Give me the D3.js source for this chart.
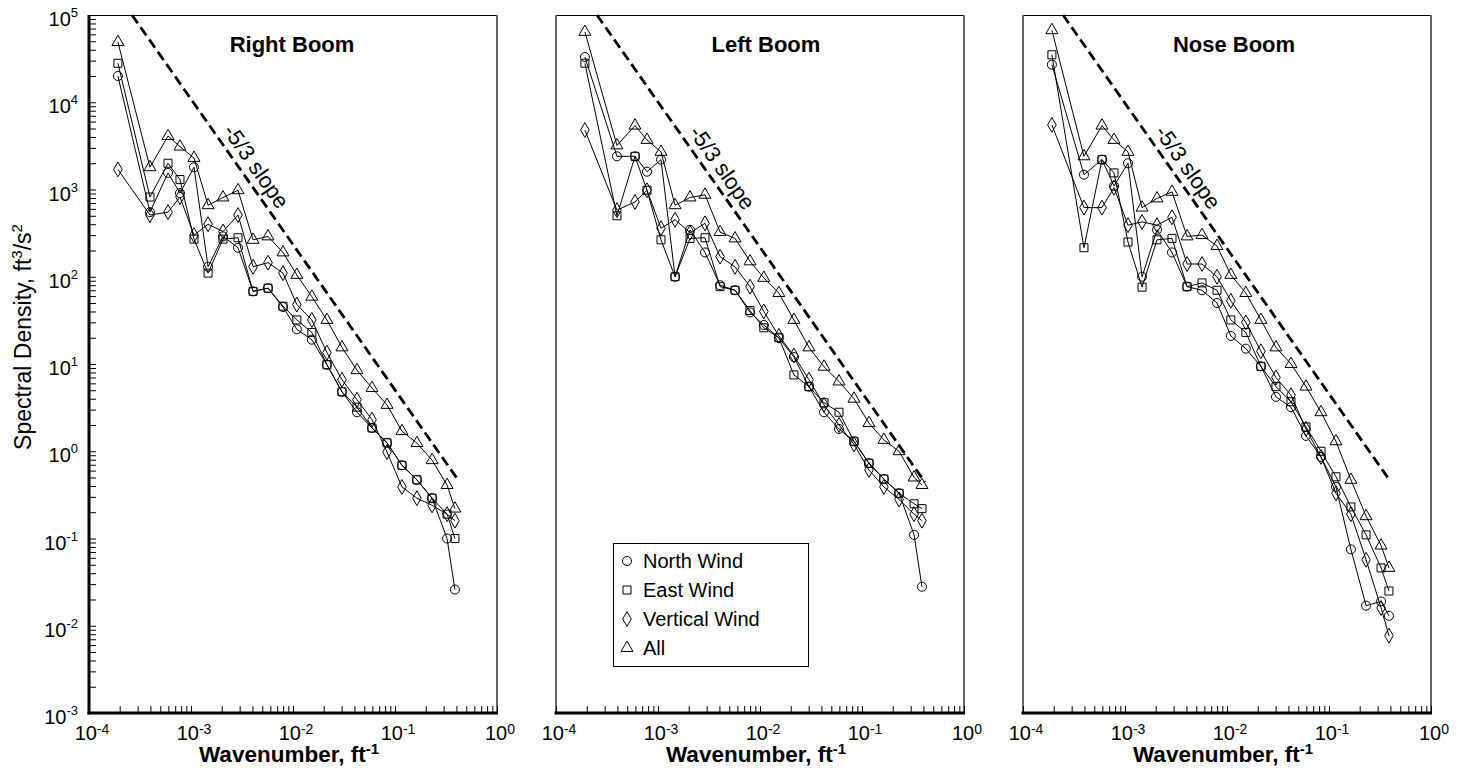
<!DOCTYPE html>
<html><head><meta charset="utf-8">
<script src="https://cdn.jsdelivr.net/npm/d3@7"></script>
<style>
body{margin:0;background:#fff;}
text{font-family:Arial,"Liberation Sans",sans-serif;fill:#000;}
</style>
</head><body>
<svg id="c" width="1464" height="769"></svg>
<script>
// ---------------- data ----------------
const wavenumber = [1.92e-4, 3.96e-4, 5.95e-4, 7.80e-4, 1.07e-3, 1.47e-3, 2.06e-3, 2.89e-3, 4.06e-3, 5.69e-3, 7.98e-3, 1.09e-2, 1.53e-2, 2.15e-2, 3.02e-2, 4.24e-2, 5.95e-2, 8.35e-2, 0.117, 0.164, 0.231, 0.324, 0.387];

const panelTitles = ["Right Boom", "Left Boom", "Nose Boom"];
const seriesNames = ["North Wind", "East Wind", "Vertical Wind", "All"];

const rightNorth    = [2.0e4, 550, 1550, 910, 1800, 130, 290, 215, 68, 74, 45, 25, 19, 9.8, 4.8, 2.8, 1.85, 1.25, 0.69, 0.47, 0.29, 0.10, 0.026];
const rightEast     = [2.8e4, 820, 2000, 1300, 270, 110, 270, 280, 68, 74, 46, 32, 23, 9.8, 4.8, 3.2, 1.85, 1.25, 0.69, 0.47, 0.29, 0.19, 0.10];
const rightVertical = [1700, 510, 550, 820, 300, 400, 330, 510, 130, 145, 110, 48, 32, 13.5, 6.6, 3.9, 2.3, 0.98, 0.39, 0.29, 0.24, 0.19, 0.16];
const rightAll      = [4.9e4, 1800, 4100, 3100, 2300, 660, 810, 980, 265, 290, 190, 105, 59, 32, 15.5, 8.5, 5.3, 3.4, 1.7, 1.24, 0.79, 0.41, 0.22];

const leftNorth    = [3.3e4, 2400, 2400, 1600, 2200, 100, 345, 190, 80, 70, 39, 28, 20, 12, 5.5, 2.8, 1.8, 1.3, 0.73, 0.48, 0.33, 0.11, 0.028];
const leftEast     = [2.8e4, 500, 2400, 980, 265, 100, 275, 280, 77, 70, 41, 26, 20, 7.5, 5.5, 3.6, 2.8, 1.3, 0.73, 0.48, 0.33, 0.25, 0.22];
const leftVertical = [4800, 580, 720, 980, 360, 450, 320, 410, 170, 130, 77, 40, 21, 12.5, 6.6, 3.4, 2.0, 1.2, 0.61, 0.39, 0.28, 0.19, 0.16];
const leftAll      = [6.4e4, 3200, 5400, 3700, 2700, 660, 810, 870, 325, 275, 150, 97, 65, 32, 15.5, 9.3, 6.3, 4.0, 2.1, 1.35, 1.0, 0.5, 0.41];

const noseNorth    = [2.7e4, 1480, 2200, 1100, 2000, 100, 345, 190, 77, 70, 50, 21, 15, 9.4, 4.2, 3.2, 1.5, 0.86, 0.39, 0.075, 0.017, 0.019, 0.013];
const noseEast     = [3.5e4, 215, 2200, 1550, 250, 76, 265, 275, 77, 85, 70, 32, 23, 9.4, 5.5, 3.7, 1.9, 1.0, 0.51, 0.23, 0.11, 0.046, 0.025];
const noseVertical = [5500, 620, 620, 1050, 390, 425, 390, 480, 140, 140, 100, 53, 30, 14, 7.0, 4.4, 1.8, 0.86, 0.33, 0.19, 0.057, 0.016, 0.0077];
const noseAll      = [6.7e4, 2400, 5400, 3700, 2700, 620, 790, 940, 290, 300, 225, 105, 65, 32, 15.5, 10, 5.5, 2.8, 1.3, 0.47, 0.18, 0.083, 0.046];

// -5/3 reference line end points [wavenumber, density]
const slopeLines = [
  [[2.64e-4, 1e5], [0.405, 0.49]],
  [[2.52e-4, 1e5], [0.415, 0.44]],
  [[2.47e-4, 1e5], [0.396, 0.46]]
];
const slopeLabel = "-5/3 slope";

const xTickExps = [-4, -3, -2, -1, 0];
const yTickExps = [-3, -2, -1, 0, 1, 2, 3, 4, 5];

// ---------------- layout ----------------
const panelLeft = [89, 556, 1023];
const titleX = [203, 210, 211];
const plotTop = 15, pw = 408, ph = 698;
const svg = d3.select("#c");

const xs = d3.scaleLog().domain([1e-4, 1]).range([0, pw]);
const ys = d3.scaleLog().domain([1e-3, 1e5]).range([plotTop + ph, plotTop]);

const panelData = [
  [rightNorth, rightEast, rightVertical, rightAll],
  [leftNorth, leftEast, leftVertical, leftAll],
  [noseNorth, noseEast, noseVertical, noseAll]
];

const symTypes = [d3.symbolCircle, d3.symbolSquare, d3.symbolDiamond, d3.symbolTriangle];
const symSizes = [64, 64, 64, 62];
const sym = i => d3.symbol().type(symTypes[i]).size(symSizes[i])();

const xMinor = [];
for (let e = -4; e < 0; e++) for (let m = 1; m <= 9; m++) xMinor.push(m * Math.pow(10, e));
xMinor.push(1);
const yMinor = [];
for (let e = -3; e < 5; e++) for (let m = 1; m <= 9; m++) yMinor.push(m * Math.pow(10, e));
yMinor.push(1e5);

function powLabel(sel, exp, supSize, dy) {
  sel.append("tspan").text("10");
  sel.append("tspan").attr("font-size", supSize).attr("dy", dy).text(String(exp));
}

panelData.forEach((series, pi) => {
  const g = svg.append("g").attr("transform", `translate(${panelLeft[pi]},0)`);

  // frame
  g.append("line").attr("x1", 0).attr("x2", pw).attr("y1", plotTop + 0.5).attr("y2", plotTop + 0.5)
    .attr("stroke", "#000").attr("stroke-width", 1);
  g.append("line").attr("x1", pw).attr("x2", pw).attr("y1", plotTop).attr("y2", plotTop + ph)
    .attr("stroke", "#666").attr("stroke-width", 2);
  if (pi > 0) {
    g.append("line").attr("x1", 0).attr("x2", 0).attr("y1", plotTop).attr("y2", plotTop + ph)
      .attr("stroke", "#666").attr("stroke-width", 2);
  }

  // x axis ticks (inward)
  const xa = g.append("g").attr("transform", `translate(0,${plotTop + ph})`)
    .call(d3.axisBottom(xs).tickValues(xMinor).tickSize(-7).tickFormat(""));
  xa.select(".domain").remove();
  xa.selectAll("line").attr("stroke", "#000").attr("stroke-width", 1);
  g.append("line").attr("x1", -1.5).attr("x2", pw + 1).attr("y1", plotTop + ph).attr("y2", plotTop + ph)
    .attr("stroke", "#000").attr("stroke-width", 3);

  xTickExps.forEach(e => {
    const t = g.append("text").attr("x", xs(Math.pow(10, e)) + 3).attr("y", plotTop + ph + 27)
      .attr("text-anchor", "middle").attr("font-size", 20);
    powLabel(t, e, 14, -6);
  });

  if (pi === 0) {
    const ya = g.append("g").call(d3.axisLeft(ys).tickValues(yMinor).tickSize(-7).tickFormat(""));
    ya.select(".domain").remove();
    ya.selectAll("line").attr("stroke", "#000").attr("stroke-width", 1);
    g.append("line").attr("x1", 0).attr("x2", 0).attr("y1", plotTop).attr("y2", plotTop + ph + 1.5)
      .attr("stroke", "#000").attr("stroke-width", 3);
    yTickExps.forEach(e => {
      const t = g.append("text").attr("x", -11).attr("y", ys(Math.pow(10, e)) + 11)
        .attr("text-anchor", "end").attr("font-size", 20);
      powLabel(t, e, 13, -9);
    });
  }

  // title
  g.append("text").attr("x", titleX[pi]).attr("y", 52).attr("text-anchor", "middle")
    .attr("font-size", 22).attr("font-weight", "bold").text(panelTitles[pi]);

  // x axis title
  const xt = g.append("text").attr("x", pw / 2 - 4).attr("y", 762).attr("text-anchor", "middle")
    .attr("font-size", 22.5).attr("font-weight", "bold");
  xt.append("tspan").text("Wavenumber, ft");
  xt.append("tspan").attr("font-size", 15).attr("dy", -8).text("-1");

  // -5/3 slope reference
  const sl = slopeLines[pi];
  g.append("path")
    .attr("d", d3.line().x(d => xs(d[0])).y(d => ys(d[1]))(sl))
    .attr("fill", "none").attr("stroke", "#000").attr("stroke-width", 2.8)
    .attr("stroke-dasharray", "10,5");
  const p0 = [xs(sl[0][0]), ys(sl[0][1])], p1 = [xs(sl[1][0]), ys(sl[1][1])];
  const ang = Math.atan2(p1[1] - p0[1], p1[0] - p0[0]);
  const f = 0.345, off = 15;
  const cx = p0[0] + (p1[0] - p0[0]) * f + Math.sin(ang) * off;
  const cy = p0[1] + (p1[1] - p0[1]) * f - Math.cos(ang) * off;
  g.append("text").attr("transform", `translate(${cx},${cy}) rotate(${ang * 180 / Math.PI})`)
    .attr("text-anchor", "middle").attr("dy", "0.35em").attr("font-size", 22).text(slopeLabel);

  // series lines
  const line = d3.line().x((d, i) => xs(wavenumber[i])).y(d => ys(d));
  series.forEach((vals, si) => {
    g.append("path").attr("d", line(vals)).attr("fill", "none")
      .attr("stroke", "#000").attr("stroke-width", 1);
  });
  series.forEach((vals, si) => {
    g.append("g").selectAll("path").data(vals).join("path")
      .attr("d", sym(si))
      .attr("transform", (d, i) => `translate(${xs(wavenumber[i])},${ys(d)})`)
      .attr("fill", "none").attr("stroke", "#000").attr("stroke-width", 1);
  });

  // legend in middle panel
  if (pi === 1) {
    const lg = g.append("g").attr("transform", "translate(57,543)");
    lg.append("rect").attr("x", 0.5).attr("y", 0.5).attr("width", 195).attr("height", 123)
      .attr("fill", "#fff").attr("stroke", "#000").attr("stroke-width", 1);
    seriesNames.forEach((n, i) => {
      const yy = 18 + i * 29;
      lg.append("path").attr("d", sym(i)).attr("transform", `translate(14,${yy})`)
        .attr("fill", "none").attr("stroke", "#000");
      lg.append("text").attr("x", 30).attr("y", yy + 7).attr("font-size", 20).text(n);
    });
  }
});

// y axis title
const yt = svg.append("text").attr("transform", "translate(31,337) rotate(-90)")
  .attr("text-anchor", "middle").attr("font-size", 23);
yt.append("tspan").text("Spectral Density, ft");
yt.append("tspan").attr("font-size", 15).attr("dy", -9).text("3");
yt.append("tspan").attr("dy", 9).text("/s");
yt.append("tspan").attr("font-size", 15).attr("dy", -9).text("2");
</script>
</body></html>
